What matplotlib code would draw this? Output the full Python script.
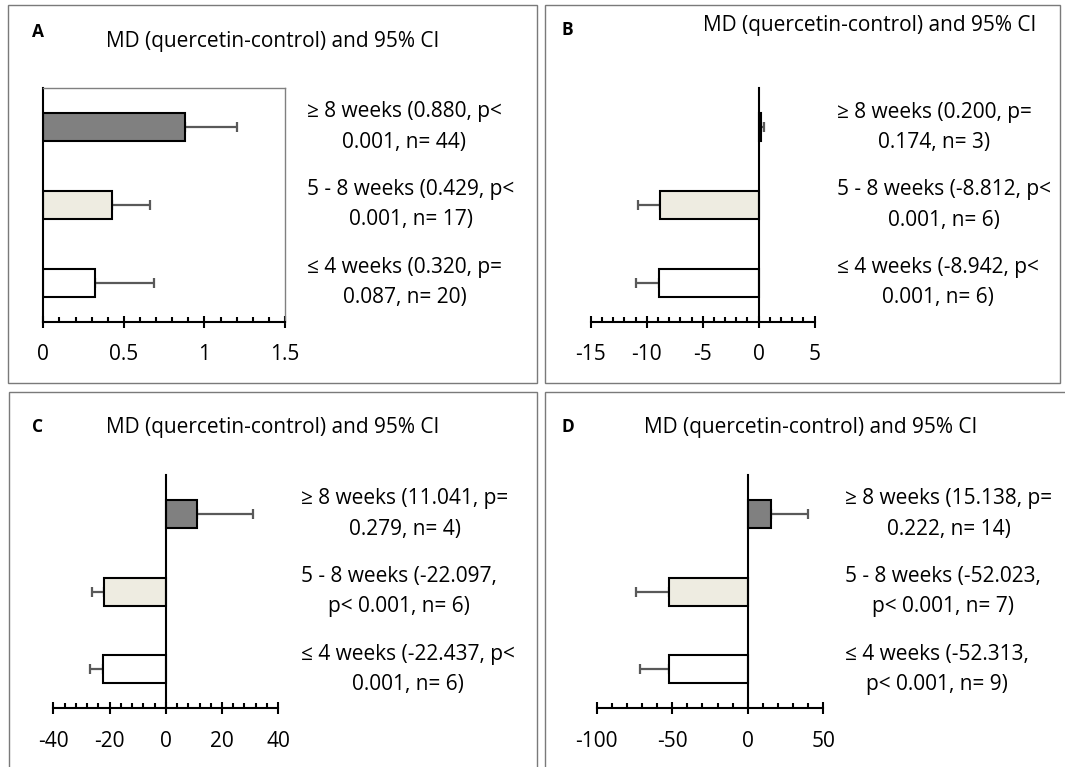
import matplotlib.pyplot as plt
from matplotlib.patches import Rectangle
from matplotlib.ticker import MultipleLocator, FuncFormatter
from matplotlib.transforms import blended_transform_factory

plt.rcParams['font.family'] = ['Open Sans', 'DejaVu Sans']
plt.rcParams['font.size'] = 15

W, H = 1065, 767
TITLE = 'MD (quercetin-control) and 95% CI'

# categories bottom -> top
CATEGORIES = ['≤ 4 weeks', '5 - 8 weeks', '≥ 8 weeks']
BAR_COLORS = ['white', '#EEECE1', '#808080']

A_MD = [0.320, 0.429, 0.880]
A_CI = [0.689, 0.662, 1.204]
A_LABELS = ['≤ 4 weeks (0.320, p=\n0.087, n= 20)',
            '5 - 8 weeks (0.429, p<\n0.001, n= 17)',
            '≥ 8 weeks (0.880, p<\n0.001, n= 44)']

B_MD = [-8.942, -8.812, 0.200]
B_CI = [-10.93, -10.80, 0.45]
B_LABELS = ['≤ 4 weeks (-8.942, p<\n0.001, n= 6)',
            '5 - 8 weeks (-8.812, p<\n0.001, n= 6)',
            '≥ 8 weeks (0.200, p=\n0.174, n= 3)']

C_MD = [-22.437, -22.097, 11.041]
C_CI = [-26.8, -26.4, 31.0]
C_LABELS = ['≤ 4 weeks (-22.437, p<\n0.001, n= 6)',
            '5 - 8 weeks (-22.097,\np< 0.001, n= 6)',
            '≥ 8 weeks (11.041, p=\n0.279, n= 4)']

D_MD = [-52.313, -52.023, 15.138]
D_CI = [-71.3, -74.1, 39.7]
D_LABELS = ['≤ 4 weeks (-52.313,\np< 0.001, n= 9)',
            '5 - 8 weeks (-52.023,\np< 0.001, n= 7)',
            '≥ 8 weeks (15.138, p=\n0.222, n= 14)']

# layout in pixels
PANELS = [
    dict(letter='A', lxy=(38, 32), txy=(273, 42), box=(43.3, 285, 88, 321.7),
         xlim=(0, 1.5), major=0.5, minor=0.1, textx=307, frame=(8, 5, 536.7, 382.7),
         md=A_MD, ci=A_CI, labels=A_LABELS),
    dict(letter='B', lxy=(567, 30), txy=(870, 25), box=(590.9, 814.5, 88.3, 321.7),
         xlim=(-15, 5), major=5, minor=1, textx=837, frame=(545, 5, 1060, 382.7),
         md=B_MD, ci=B_CI, labels=B_LABELS),
    dict(letter='C', lxy=(38, 427), txy=(273, 427), box=(53.4, 278.2, 475, 708.3),
         xlim=(-40, 40), major=20, minor=4, textx=301, frame=(8.6, 391.7, 536.7, 780),
         md=C_MD, ci=C_CI, labels=C_LABELS),
    dict(letter='D', lxy=(568, 427), txy=(811, 427), box=(596.7, 823.3, 475, 708.3),
         xlim=(-100, 50), major=50, minor=10, textx=845, frame=(545, 391.7, 1080, 780),
         md=D_MD, ci=D_CI, labels=D_LABELS),
]

fig = plt.figure(figsize=(W / 100, H / 100), dpi=100)
fmt = FuncFormatter(lambda v, pos: '{:g}'.format(round(v, 6)))

for p in PANELS:
    x0, y0, x1, y1 = p['frame']
    fig.patches.append(Rectangle((x0 / W, 1 - y1 / H), (x1 - x0) / W, (y1 - y0) / H,
                                 transform=fig.transFigure, fill=False,
                                 edgecolor='#7a7a7a', linewidth=1.0))
    fig.text(p['lxy'][0] / W, 1 - p['lxy'][1] / H, p['letter'], fontsize=12.5,
             fontweight='bold', ha='center', va='center')
    fig.text(p['txy'][0] / W, 1 - p['txy'][1] / H, TITLE, ha='center', va='center')

    l, r, t, b = p['box']
    ax = fig.add_axes([l / W, 1 - b / H, (r - l) / W, (b - t) / H])
    ypos = list(range(len(CATEGORIES)))

    lower = [max(m - c, 0) for m, c in zip(p['md'], p['ci'])]
    upper = [max(c - m, 0) for m, c in zip(p['md'], p['ci'])]
    ax.errorbar(p['md'], ypos, xerr=[lower, upper], fmt='none', ecolor='#595959',
                elinewidth=1.6, capsize=3.9, capthick=1.6, zorder=1)
    ax.barh(ypos, p['md'], height=0.36, color=BAR_COLORS, edgecolor='black',
            linewidth=1.5, zorder=2)

    ax.set_xlim(*p['xlim'])
    ax.set_ylim(-0.5, 2.5)
    ax.xaxis.set_major_locator(MultipleLocator(p['major']))
    ax.xaxis.set_minor_locator(MultipleLocator(p['minor']))
    ax.xaxis.set_major_formatter(fmt)
    ax.tick_params(axis='x', which='major', direction='inout', length=8.4, width=1.5,
                   pad=12, labelsize=15)
    ax.tick_params(axis='x', which='minor', direction='in', length=3.6, width=1.5)
    ax.set_yticks([])
    ax.spines['left'].set_position(('data', 0))
    ax.spines['left'].set_linewidth(1.5)
    ax.spines['bottom'].set_linewidth(1.5)
    if p['letter'] == 'A':
        for s in ('top', 'right'):
            ax.spines[s].set_color('#808080')
            ax.spines[s].set_linewidth(1.0)
    else:
        ax.spines['top'].set_visible(False)
        ax.spines['right'].set_visible(False)
    ax.patch.set_visible(False)

    trans = blended_transform_factory(fig.transFigure, ax.transData)
    for yv, lab in zip(ypos, p['labels']):
        ax.text(p['textx'] / W, yv, lab, transform=trans, ha='left', va='center',
                multialignment='center', linespacing=1.58, clip_on=False)

fig.savefig('out.png', dpi=100)
